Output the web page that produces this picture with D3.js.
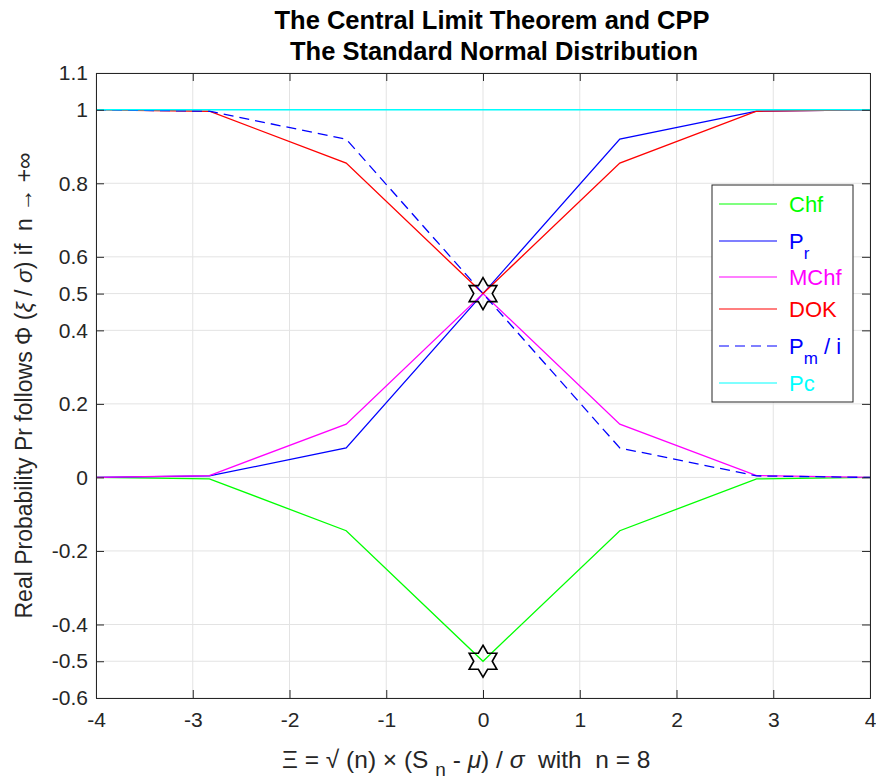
<!DOCTYPE html>
<html>
<head>
<meta charset="utf-8">
<script src="https://cdn.jsdelivr.net/npm/d3@7"></script>
<style>
  body { margin: 0; background: #fff; }
  text { font-family: "Liberation Sans", Arial, sans-serif; white-space: pre; }
</style>
</head>
<body>
<svg id="chart" width="876" height="780"></svg>
<script>
// standardized positions, n = 8
const xValues = [-4, -2.828, -1.414, 0, 1.414, 2.828, 4];

const chfValues  = [0, -0.004, -0.145, -0.5, -0.145, -0.004, 0];
const prValues   = [0, 0.004, 0.08, 0.5, 0.92, 0.996, 1];
const mchfValues = [0, 0.005, 0.145, 0.5, 0.145, 0.005, 0];
const dokValues  = [1, 0.996, 0.855, 0.5, 0.855, 0.996, 1];
const pmValues   = [1, 0.996, 0.92, 0.5, 0.08, 0.004, 0];
const pcValues   = [1, 1, 1, 1, 1, 1, 1];

const starPoints = [[0, 0.5], [0, -0.5]];

const xTicks = [-4, -3, -2, -1, 0, 1, 2, 3, 4];
const yTicks = [-0.6, -0.5, -0.4, -0.2, 0, 0.2, 0.4, 0.5, 0.6, 0.8, 1, 1.1];

const series = [
  {name: "Chf", sub: null, tail: "", values: chfValues, color: "#00ff00", dash: null},
  {name: "P", sub: "r", tail: "", values: prValues, color: "#0000ff", dash: null},
  {name: "MChf", sub: null, tail: "", values: mchfValues, color: "#ff00ff", dash: null},
  {name: "DOK", sub: null, tail: "", values: dokValues, color: "#ff0000", dash: null},
  {name: "P", sub: "m", tail: " / i", values: pmValues, color: "#0000ff", dash: "10,6"},
  {name: "Pc", sub: null, tail: "", values: pcValues, color: "#00ffff", dash: null}
];

const margin = {top: 73, right: 6, bottom: 82, left: 96};
const width = 876 - margin.left - margin.right;
const height = 780 - margin.top - margin.bottom;

const svg = d3.select("#chart");
const g = svg.append("g").attr("transform", `translate(${margin.left},${margin.top})`);

const x = d3.scaleLinear().domain([-4, 4]).range([0, width]);
const y = d3.scaleLinear().domain([-0.6, 1.1]).range([height, 0]);

// grid
g.append("g").selectAll("line").data(xTicks).enter().append("line")
  .attr("x1", d => x(d)).attr("x2", d => x(d))
  .attr("y1", 0).attr("y2", height)
  .attr("stroke", "#e3e3e3").attr("stroke-width", 1);
g.append("g").selectAll("line").data(yTicks).enter().append("line")
  .attr("x1", 0).attr("x2", width)
  .attr("y1", d => y(d)).attr("y2", d => y(d))
  .attr("stroke", "#e3e3e3").attr("stroke-width", 1);

// lines
const line = d3.line().x((d, i) => x(xValues[i])).y(d => y(d));
series.forEach(s => {
  g.append("path")
    .datum(s.values)
    .attr("d", line)
    .attr("fill", "none")
    .attr("stroke", s.color)
    .attr("stroke-width", 1.3)
    .attr("stroke-dasharray", s.dash);
});

// hexagram markers
function hexagram(r) {
  const pts = [];
  for (let i = 0; i < 12; i++) {
    const a = -Math.PI / 2 + i * Math.PI / 6;
    const rr = i % 2 === 0 ? r : r / Math.sqrt(3);
    pts.push([rr * Math.cos(a), rr * Math.sin(a)]);
  }
  return "M" + pts.map(p => p.join(",")).join("L") + "Z";
}
g.selectAll(".marker").data(starPoints).enter().append("path")
  .attr("class", "marker")
  .attr("transform", d => `translate(${x(d[0])},${y(d[1])})`)
  .attr("d", hexagram(16))
  .attr("fill", "none")
  .attr("stroke", "#000")
  .attr("stroke-width", 1.6);

// axes
const fmt = d => String(d);
const xAxis = g.append("g").attr("transform", `translate(0,${height})`)
  .call(d3.axisBottom(x).tickValues(xTicks).tickSize(-8).tickPadding(14).tickFormat(fmt));
const xAxisTop = g.append("g")
  .call(d3.axisTop(x).tickValues(xTicks).tickSize(-8).tickFormat(""));
const yAxis = g.append("g")
  .call(d3.axisLeft(y).tickValues(yTicks).tickSize(-8).tickPadding(8).tickFormat(fmt));
const yAxisRight = g.append("g").attr("transform", `translate(${width},0)`)
  .call(d3.axisRight(y).tickValues(yTicks).tickSize(-8).tickFormat(""));

[xAxis, xAxisTop, yAxis, yAxisRight].forEach(a => {
  a.select(".domain").attr("stroke", "#262626").attr("stroke-width", 1);
  a.selectAll(".tick line").attr("stroke", "#262626");
  a.selectAll(".tick text").attr("fill", "#262626").style("font-size", "21px")
    .style("font-family", "'Liberation Sans', Arial, sans-serif");
});

// title
svg.append("text").attr("x", 492).attr("y", 29).attr("text-anchor", "middle")
  .style("font-size", "25.5px").style("font-weight", "bold")
  .text("The Central Limit Theorem and CPP");
svg.append("text").attr("x", 494).attr("y", 60).attr("text-anchor", "middle")
  .style("font-size", "25.5px").style("font-weight", "bold")
  .text("The Standard Normal Distribution");

// x label
const xl = svg.append("text").attr("x", 282).attr("y", 768).attr("text-anchor", "start")
  .style("font-size", "24.5px").attr("fill", "#262626");
xl.append("tspan").text("Ξ = √ (n) × (S ");
xl.append("tspan").attr("dy", 8).style("font-size", "19px").text("n");
xl.append("tspan").attr("dy", -8).text(" - ");
xl.append("tspan").style("font-style", "italic").text("μ");
xl.append("tspan").text(") / ");
xl.append("tspan").style("font-style", "italic").text("σ");
xl.append("tspan").text("  with  n = 8");

// y label
const yl = svg.append("text")
  .attr("transform", `translate(32,${margin.top + height / 2}) rotate(-90)`)
  .attr("text-anchor", "middle").style("font-size", "23px").attr("fill", "#262626");
yl.append("tspan").text("Real Probability Pr follows Φ (");
yl.append("tspan").style("font-style", "italic").text("ξ");
yl.append("tspan").text(" / ");
yl.append("tspan").style("font-style", "italic").text("σ");
yl.append("tspan").text(") if  n → +∞");

// legend
const lg = svg.append("g").attr("transform", "translate(712,185)");
lg.append("rect").attr("width", 141).attr("height", 217)
  .attr("fill", "#fff").attr("stroke", "#262626").attr("stroke-width", 1);
const rowY = [19, 56, 92, 124, 161, 198];
series.forEach((s, i) => {
  const ry = rowY[i];
  lg.append("line").attr("x1", 7).attr("x2", 65).attr("y1", ry).attr("y2", ry)
    .attr("stroke", s.color).attr("stroke-width", 1.2).attr("stroke-dasharray", s.dash);
  const t = lg.append("text").attr("x", 77).attr("y", ry + 8)
    .style("font-size", "22px").attr("fill", s.color);
  t.append("tspan").text(s.name);
  if (s.sub) {
    t.append("tspan").attr("dy", 10).style("font-size", "17px").text(s.sub);
    if (s.tail) t.append("tspan").attr("dy", -10).text(s.tail);
  }
});
</script>
</body>
</html>
